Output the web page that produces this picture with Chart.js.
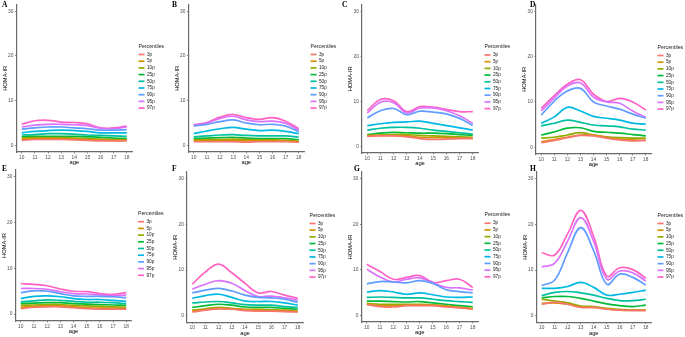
<!DOCTYPE html>
<html>
<head>
<meta charset="utf-8">
<script src="https://cdn.jsdelivr.net/npm/chart.js@4.4.1/dist/chart.umd.min.js"></script>
<style>
    html, body { margin: 0; padding: 0; background: #fff; }
    #fig { position: relative; width: 685px; height: 337px; overflow: hidden; }
    #fig canvas { position: absolute; }
    .tag { position: absolute; font: bold 7.5px "Liberation Serif", serif; line-height: 8px; color: #000; }
</style>
</head>
<body>
<div id="fig"></div>
<script>
const ages = [10, 11, 12, 13, 14, 15, 16, 17, 18];
const percentiles = ["3p", "5p", "10p", "25p", "50p", "75p", "90p", "95p", "97p"];
const lineColors = ["#F8766D", "#D39200", "#93AA00", "#00BA38", "#00C19F", "#00B9E3", "#619CFF", "#DB72FB", "#FF61C3"];
const yTicks = [0, 10, 20, 30];

// HOMA-IR, one row per percentile (3p ... 97p), columns are ages 10-18
const panelA = [
    [1.1, 1.3, 1.3, 1.3, 1.2, 1.1, 1.0, 1.0, 1.0],
    [1.3, 1.5, 1.5, 1.5, 1.4, 1.3, 1.2, 1.1, 1.1],
    [1.6, 1.7, 1.7, 1.7, 1.6, 1.5, 1.4, 1.3, 1.2],
    [1.9, 2.0, 2.0, 2.0, 2.0, 1.9, 1.8, 1.6, 1.5],
    [2.3, 2.4, 2.6, 2.6, 2.5, 2.3, 2.2, 2.1, 2.0],
    [2.8, 3.1, 3.3, 3.4, 3.3, 3.1, 2.8, 2.8, 2.8],
    [3.6, 3.9, 4.1, 4.1, 3.9, 3.7, 3.4, 3.4, 3.5],
    [4.1, 4.5, 4.7, 4.7, 4.6, 4.4, 3.8, 3.7, 4.1],
    [4.7, 5.5, 5.6, 5.2, 5.1, 4.8, 3.9, 3.9, 4.3],
];
const panelB = [
    [0.8, 0.8, 0.8, 0.8, 0.7, 0.8, 0.8, 0.8, 0.7],
    [1.0, 1.0, 1.1, 1.1, 1.0, 1.0, 1.0, 1.0, 0.8],
    [1.2, 1.3, 1.3, 1.4, 1.3, 1.2, 1.2, 1.1, 0.9],
    [1.5, 1.6, 1.7, 1.8, 1.6, 1.5, 1.5, 1.5, 1.2],
    [1.9, 2.1, 2.3, 2.4, 2.2, 2.1, 2.1, 2.1, 1.8],
    [2.6, 3.2, 3.7, 4.0, 3.6, 3.3, 3.4, 3.1, 2.6],
    [4.3, 4.7, 5.3, 5.7, 5.0, 4.6, 4.7, 4.3, 3.0],
    [4.5, 5.0, 6.0, 6.5, 5.7, 5.3, 5.4, 4.9, 3.4],
    [4.6, 5.1, 6.3, 6.9, 6.2, 5.8, 6.2, 5.4, 3.7],
];
const panelC = [
    [2.2, 2.3, 2.3, 2.1, 1.7, 1.5, 1.6, 1.7, 1.7],
    [2.3, 2.4, 2.4, 2.3, 2.0, 1.9, 1.9, 1.8, 1.8],
    [2.4, 2.5, 2.6, 2.6, 2.4, 2.3, 2.2, 2.1, 2.0],
    [2.6, 2.9, 3.1, 3.0, 2.9, 2.9, 2.8, 2.6, 2.4],
    [3.6, 4.0, 4.2, 4.2, 4.0, 3.6, 3.3, 3.0, 2.7],
    [4.6, 5.0, 5.3, 5.4, 5.6, 5.1, 4.6, 4.1, 3.6],
    [6.3, 7.9, 8.4, 7.0, 7.8, 7.6, 7.2, 6.2, 4.6],
    [7.4, 9.8, 9.7, 7.4, 8.5, 8.5, 7.9, 6.8, 5.1],
    [7.9, 10.4, 10.1, 7.7, 8.8, 8.7, 8.2, 7.7, 7.7],
];
const panelD = [
    [1.0, 1.5, 2.1, 2.6, 2.5, 2.0, 1.6, 1.4, 1.5],
    [1.2, 1.7, 2.2, 2.7, 2.7, 2.2, 1.8, 1.6, 1.5],
    [2.0, 2.2, 2.7, 3.2, 2.7, 2.3, 2.1, 2.0, 2.0],
    [2.7, 3.4, 4.2, 4.3, 3.5, 3.3, 3.1, 2.8, 2.5],
    [4.7, 5.3, 6.0, 5.5, 4.9, 4.7, 4.5, 4.0, 3.8],
    [5.3, 6.7, 8.8, 8.0, 6.8, 6.4, 6.0, 5.3, 5.1],
    [7.1, 10.2, 12.4, 13.0, 10.0, 9.1, 8.4, 7.3, 6.4],
    [8.0, 10.9, 13.5, 14.2, 11.1, 10.0, 9.7, 8.0, 6.6],
    [8.6, 11.4, 13.9, 14.9, 11.7, 10.1, 10.8, 10.0, 8.2],
];
const panelE = [
    [1.2, 1.5, 1.6, 1.6, 1.4, 1.2, 1.1, 1.1, 1.1],
    [1.5, 1.7, 1.8, 1.8, 1.6, 1.4, 1.3, 1.3, 1.2],
    [1.9, 2.0, 2.1, 2.1, 1.9, 1.8, 1.7, 1.6, 1.5],
    [2.3, 2.4, 2.5, 2.5, 2.3, 2.2, 2.1, 2.0, 1.9],
    [2.7, 2.9, 3.1, 3.0, 2.8, 2.6, 2.6, 2.5, 2.3],
    [3.4, 3.9, 4.0, 3.8, 3.4, 3.2, 3.2, 3.0, 2.8],
    [4.7, 5.1, 5.0, 4.5, 4.0, 3.9, 3.9, 3.8, 3.6],
    [5.6, 5.6, 5.4, 4.9, 4.5, 4.4, 4.2, 4.0, 4.2],
    [6.7, 6.5, 6.2, 5.5, 5.0, 4.9, 4.5, 4.3, 4.7],
];
const panelF = [
    [0.8, 1.2, 1.5, 1.4, 1.1, 1.0, 1.0, 0.9, 0.8],
    [1.0, 1.3, 1.6, 1.5, 1.3, 1.2, 1.1, 1.1, 0.9],
    [1.2, 1.5, 1.8, 1.6, 1.4, 1.4, 1.3, 1.2, 1.0],
    [1.8, 2.2, 2.5, 2.3, 1.9, 1.8, 1.8, 1.6, 1.4],
    [2.8, 3.0, 3.1, 2.8, 2.4, 2.3, 2.3, 2.0, 1.8],
    [3.8, 4.4, 4.7, 4.0, 3.2, 3.1, 3.1, 2.8, 2.3],
    [5.0, 5.6, 6.0, 5.4, 4.5, 4.0, 3.9, 3.6, 2.9],
    [5.8, 6.9, 7.7, 7.1, 5.5, 4.2, 4.3, 3.9, 3.4],
    [6.9, 9.6, 11.3, 9.4, 7.1, 5.0, 5.3, 4.5, 3.8],
];
const panelG = [
    [2.3, 1.9, 1.8, 2.1, 2.1, 2.1, 1.8, 1.6, 1.3],
    [2.4, 2.1, 2.1, 2.2, 2.3, 2.2, 2.0, 1.7, 1.4],
    [2.6, 2.4, 2.4, 2.4, 2.4, 2.3, 2.0, 1.7, 1.5],
    [3.1, 3.1, 3.0, 2.9, 3.0, 2.7, 2.4, 2.1, 1.9],
    [3.9, 4.0, 3.9, 3.8, 3.8, 3.5, 3.2, 3.0, 2.8],
    [5.1, 5.4, 5.1, 4.6, 4.9, 4.5, 4.0, 3.9, 4.0],
    [6.9, 7.4, 7.3, 7.1, 7.6, 7.0, 5.6, 5.2, 4.9],
    [10.1, 8.4, 7.3, 7.9, 8.2, 7.1, 6.1, 6.0, 5.5],
    [11.2, 9.6, 7.9, 8.3, 8.7, 7.2, 7.6, 7.9, 6.1],
];
const panelH = [
    [2.5, 2.9, 2.5, 1.8, 1.8, 1.4, 1.2, 1.1, 1.1],
    [2.7, 2.8, 2.5, 1.9, 1.8, 1.5, 1.2, 1.2, 1.2],
    [3.6, 3.2, 2.8, 2.1, 2.0, 1.6, 1.4, 1.2, 1.2],
    [3.9, 4.2, 4.2, 3.8, 3.2, 2.6, 2.2, 2.0, 2.3],
    [4.4, 5.1, 5.3, 5.0, 4.5, 3.8, 3.3, 3.3, 3.6],
    [6.0, 6.0, 6.4, 7.3, 6.2, 4.5, 4.7, 5.1, 5.6],
    [6.6, 7.8, 13.9, 19.3, 14.2, 6.9, 9.1, 8.4, 6.7],
    [10.7, 11.5, 16.4, 21.5, 16.2, 8.0, 9.8, 9.4, 7.6],
    [13.8, 13.3, 18.0, 23.1, 17.3, 8.7, 10.5, 10.1, 8.2],
];

const FONT = '"Liberation Sans", Arial, sans-serif';
const Y_AXIS_W = 15;   // room for y tick labels + "HOMA-IR"
const X_AXIS_H = 14;   // room for x tick labels + "age"

// cell = canvas box on the page, plot = axis lines [left, top, right, bottom]
const panels = [
    { tag: "A", rows: panelA, cell: [0, 0, 170, 168],   plot: [16.5, 2, 132, 152],   tagAt: [2, 1] },
    { tag: "B", rows: panelB, cell: [170, 0, 170, 168], plot: [188.5, 2, 304, 152],  tagAt: [172, 1] },
    { tag: "C", rows: panelC, cell: [340, 0, 170, 168], plot: [362, 2, 478, 153],    tagAt: [342, 1] },
    { tag: "D", rows: panelD, cell: [510, 0, 175, 168], plot: [536, 3, 651, 154],    tagAt: [530, 1] },
    { tag: "E", rows: panelE, cell: [0, 165, 170, 172],   plot: [15.5, 170, 131.5, 321], tagAt: [2, 165] },
    { tag: "F", rows: panelF, cell: [170, 165, 170, 172], plot: [187, 172, 303, 322.5],  tagAt: [172, 165] },
    { tag: "G", rows: panelG, cell: [340, 165, 170, 172], plot: [361.5, 172, 478, 322],  tagAt: [354, 165] },
    { tag: "H", rows: panelH, cell: [510, 165, 175, 172], plot: [536.5, 172, 651, 322.5], tagAt: [530, 165] },
];

// ggplot-like legend to the right of the plot area
const percentileLegend = {
    id: "percentileLegend",
    afterDraw(chart) {
        const { ctx, chartArea } = chart;
        const x = chartArea.right + 6.5;
        const step = 6.7;
        const first = (chartArea.top + chartArea.bottom) / 2 + 3 - step * 4;
        ctx.save();
        ctx.textBaseline = "middle";
        ctx.fillStyle = "#1a1a1a";
        ctx.font = "5.2px " + FONT;
        ctx.fillText("Percentiles", x, first - 8.2);
        ctx.font = "4.7px " + FONT;
        chart.data.datasets.forEach((ds, i) => {
            const y = first + i * step;
            ctx.strokeStyle = ds.borderColor;
            ctx.lineWidth = 1.7;
            ctx.beginPath();
            ctx.moveTo(x, y);
            ctx.lineTo(x + 6, y);
            ctx.stroke();
            ctx.fillText(ds.label, x + 8.5, y);
        });
        ctx.restore();
    },
};

const fig = document.getElementById("fig");

function drawPanel(p) {
    const [cx, cy, cw, ch] = p.cell;
    const [pl, pt, pr, pb] = p.plot;

    const canvas = document.createElement("canvas");
    canvas.width = cw;
    canvas.height = ch;
    canvas.style.left = cx + "px";
    canvas.style.top = cy + "px";
    fig.appendChild(canvas);

    const tag = document.createElement("div");
    tag.className = "tag";
    tag.textContent = p.tag;
    tag.style.left = p.tagAt[0] + "px";
    tag.style.top = p.tagAt[1] + "px";
    fig.appendChild(tag);

    const axisStyle = {
        grid: { drawOnChartArea: false, drawTicks: true, tickLength: 1.5, color: "#666", lineWidth: 0.8 },
        border: { display: true, color: "#6a6a6a", width: 1.2 },
    };

    new Chart(canvas, {
        type: "line",
        data: {
            datasets: percentiles.map((name, i) => ({
                label: name,
                data: ages.map((a, j) => ({ x: a, y: p.rows[i][j] })),
                borderColor: lineColors[i],
                backgroundColor: lineColors[i],
                borderWidth: 1.7,
                pointRadius: 0,
                tension: 0.4,
                fill: false,
            })),
        },
        options: {
            responsive: false,
            animation: false,
            devicePixelRatio: 1,
            layout: {
                padding: {
                    left: pl - Y_AXIS_W - cx,
                    top: pt - cy,
                    right: cx + cw - pr,
                    bottom: cy + ch - pb - X_AXIS_H,
                },
            },
            plugins: { legend: { display: false }, tooltip: { enabled: false } },
            scales: {
                x: {
                    type: "linear",
                    min: 9.6,
                    max: 18.4,
                    afterBuildTicks: (s) => { s.ticks = ages.map((v) => ({ value: v })); },
                    afterFit: (s) => { s.height = X_AXIS_H; },
                    ticks: { autoSkip: false, maxRotation: 0, padding: 1, color: "#4d4d4d", font: { size: 4.8, family: FONT } },
                    title: { display: true, text: "age", color: "#000", padding: 0, font: { size: 5.8, family: FONT } },
                    ...axisStyle,
                },
                y: {
                    min: -1.5,
                    max: 31.5,
                    afterBuildTicks: (s) => { s.ticks = yTicks.map((v) => ({ value: v })); },
                    afterFit: (s) => { s.width = Y_AXIS_W; },
                    ticks: { padding: 1.7, color: "#4d4d4d", font: { size: 4.8, family: FONT } },
                    title: { display: true, text: "HOMA-IR", color: "#000", padding: 0, font: { size: 5.8, family: FONT } },
                    ...axisStyle,
                },
            },
        },
        plugins: [percentileLegend],
    });
}

panels.forEach(drawPanel);
</script>
</body>
</html>
